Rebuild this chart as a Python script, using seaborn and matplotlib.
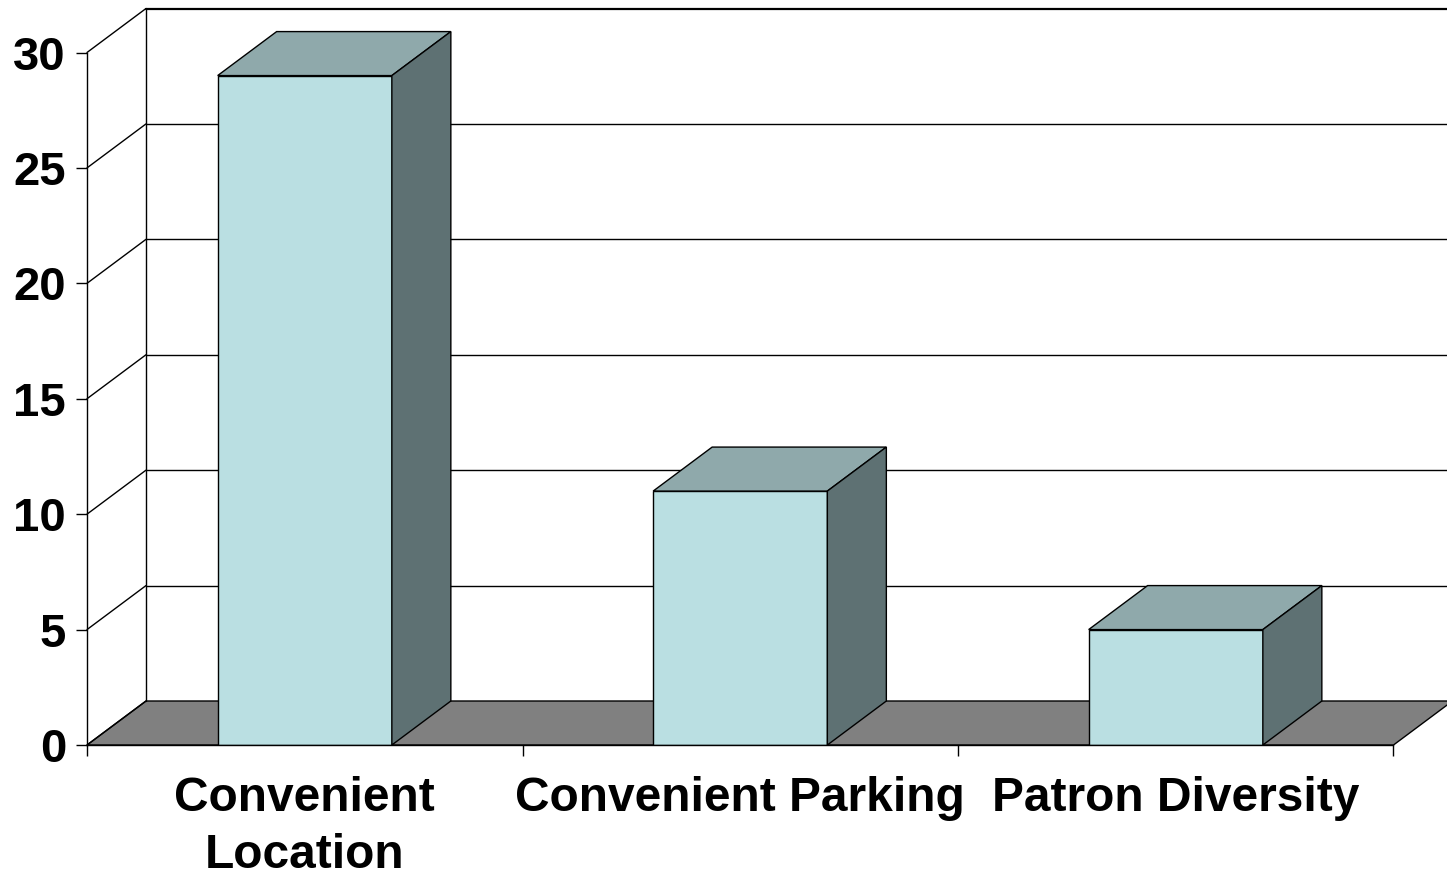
import matplotlib
matplotlib.use("Agg")
import matplotlib.pyplot as plt
import pandas as pd
import seaborn as sns
from matplotlib.patches import Polygon

# ---- data ----
categories = ["Convenient Location", "Convenient Parking", "Patron Diversity"]
values = [29, 11, 5]
tick_labels = ["Convenient\nLocation", "Convenient Parking", "Patron Diversity"]
y_ticks = [0, 5, 10, 15, 20, 25, 30]

# ---- style ----
FRONT = "#BADFE2"
TOP = "#8FA9AB"
SIDE = "#5E7173"
FLOOR = "#808080"

sns.set_theme(style="ticks", rc={
    "axes.edgecolor": "black", "xtick.color": "black", "ytick.color": "black",
    "text.color": "black", "axes.labelcolor": "black"})
plt.rcParams['font.family'] = ['Liberation Sans', 'DejaVu Sans']
plt.rcParams['font.weight'] = 'bold'

W, H = 1447, 876
fig = plt.figure(figsize=(W / 100, H / 100), dpi=100)
x_left, x_right_front = 87, 1393.5
y0_px, y30_px = 745, 52.5
ax_top_px = 9
px_per_cat = (x_right_front - x_left) / 3
px_per_unit = (y0_px - y30_px) / 30
ax = fig.add_axes([x_left / W, (H - y0_px) / H, (W - x_left) / W, (y0_px - ax_top_px) / H])

df = pd.DataFrame({"category": categories, "value": values})
sns.barplot(data=df, x="category", y="value", color=FRONT, saturation=1,
            width=0.4, edgecolor="black", linewidth=1.0, ax=ax, zorder=3)
bars = list(ax.patches)

xmax = -0.5 + (W - x_left) / px_per_cat
ax.set_xlim(-0.5, xmax)
ax.set_ylim(0, (y0_px - ax_top_px) / px_per_unit)
dx = 59 / px_per_cat
dy = 44 / px_per_unit
ymax_tick = max(y_ticks)

# floor
ax.add_patch(Polygon([(-0.5, 0), (2.5, 0), (2.5 + dx, dy), (-0.5 + dx, dy)],
                     closed=True, facecolor=FLOOR, edgecolor="black", lw=1.0,
                     zorder=1, clip_on=False))
# back wall gridlines and side wall diagonals
for v in y_ticks:
    if v > 0:
        ax.plot([-0.5 + dx, xmax + 0.2], [v + dy, v + dy], color="black",
                lw=1.6 if v == ymax_tick else 1.0, zorder=1.5, clip_on=False)
    ax.plot([-0.5, -0.5 + dx], [v, v + dy], color="black", lw=1.0, zorder=1.5,
            clip_on=False)
ax.plot([-0.5 + dx, -0.5 + dx], [dy, ymax_tick + dy], color="black", lw=1.0,
        zorder=1.5, clip_on=False)

# 3D faces for bars
for b in bars:
    x, w, h = b.get_x(), b.get_width(), b.get_height()
    ax.add_patch(Polygon([(x, h), (x + w, h), (x + w + dx, h + dy), (x + dx, h + dy)],
                         closed=True, facecolor=TOP, edgecolor="black", lw=1.0,
                         zorder=3, clip_on=False))
    ax.add_patch(Polygon([(x + w, 0), (x + w + dx, dy), (x + w + dx, h + dy), (x + w, h)],
                         closed=True, facecolor=SIDE, edgecolor="black", lw=1.0,
                         zorder=3, clip_on=False))

# axes styling
for s in ["top", "right"]:
    ax.spines[s].set_visible(False)
ax.spines["left"].set_bounds(0, ymax_tick)
ax.spines["bottom"].set_bounds(-0.5, 2.5)
for s in ["left", "bottom"]:
    ax.spines[s].set_linewidth(1.0)
    ax.spines[s].set_zorder(4)

ax.set_yticks(y_ticks)
ax.set_yticklabels([str(t) for t in y_ticks], fontsize=34, fontweight="bold")
ax.tick_params(axis="y", direction="out", length=7.9, width=1.0, pad=7.2, left=True)

ax.set_xticks([0, 1, 2])
ax.set_xticklabels(tick_labels, fontsize=34.5, fontweight="bold", linespacing=1.33)
ax.set_xticks([-0.5, 0.5, 1.5, 2.5], minor=True)
ax.tick_params(axis="x", which="major", length=0, pad=22.5)
ax.tick_params(axis="x", which="minor", direction="out", length=7.9, width=1.0, bottom=True)
ax.set_xlabel("")
ax.set_ylabel("")
ax.patch.set_alpha(0)

fig.savefig("out.png", dpi=100)
